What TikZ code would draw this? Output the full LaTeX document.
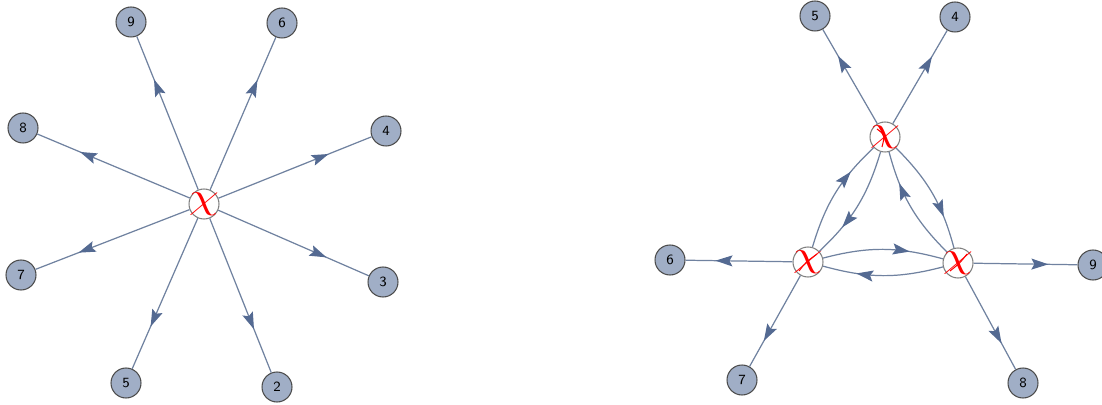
\documentclass[tikz,border=0pt]{standalone}
\usetikzlibrary{arrows.meta,decorations.markings}
\definecolor{edgeblue}{RGB}{112,130,160}
\definecolor{tipblue}{RGB}{84,106,146}
\definecolor{vertfill}{RGB}{160,174,198}
\newcommand{\chiglyph}{\scalebox{1.35}[1]{$\chi$}}
\tikzset{
  vert/.style={circle,draw=black!70,line width=0.6pt,fill=vertfill,minimum size=0.6cm,inner sep=0pt,font=\sffamily\footnotesize},
  hub/.style={circle,draw=black!50,line width=0.6pt,fill=white,minimum size=0.6cm,inner sep=0pt,
    label={[text=red,font=\huge,inner sep=0pt]center:\chiglyph}},
  slash/.style={draw=red,line width=0.6pt},
  midarrow/.style={draw=edgeblue,line width=0.7pt,postaction={decorate},
    decoration={markings,mark=at position 0.72 with {\arrow[tipblue]{Stealth[length=0.34cm,width=0.22cm,inset=0.06cm]}}}}
}
\begin{document}
\begin{tikzpicture}[x=0.02cm,y=-0.02cm]
  \useasboundingbox (0,0) rectangle (1102,405);
  % star on the left
  \node[hub] (c) at (204,204) {};
  \foreach \n/\x/\y in {9/131/22,6/282/23,8/23/128,4/386/131,7/21/275,3/383/282,5/126/383,2/277/387}
    {\node[vert] (l\n) at (\x,\y) {\n};
     \draw[midarrow] (c) -- (l\n);}
  % triangle on the right
  \node[hub] (t) at (885,137) {};
  \node[hub] (a) at (808,262) {};
  \node[hub] (b) at (958,263) {};
  \draw[slash] ([shift={(-8,-8)}]t.center) .. controls ([shift={(0,-2)}]t.center) .. ([shift={(-3,10)}]t.center);
  \draw[slash] ([shift={(-9,9)}]a.center) .. controls ([shift={(-2,0)}]a.center) .. ([shift={(9,-8)}]a.center);
  \draw[slash] ([shift={(-8,8)}]b.center) .. controls ([shift={(2,0)}]b.center) .. ([shift={(9,-9)}]b.center);
  \foreach \n/\x/\y/\s in {5/815/16/t,4/955/17/t,6/670/260/a,7/742/380/a,9/1093/265/b,8/1023/383/b}
    {\node[vert] (r\n) at (\x,\y) {\n};
     \draw[midarrow] (\s) -- (r\n);}
  \draw[midarrow] (a) to[bend left=15] (t);
  \draw[midarrow] (t) to[bend left=15] (a);
  \draw[midarrow] (t) to[bend left=15] (b);
  \draw[midarrow] (b) to[bend left=15] (t);
  \draw[midarrow] (a) to[bend left=15] (b);
  \draw[midarrow] (b) to[bend left=15] (a);
\end{tikzpicture}
\end{document}
